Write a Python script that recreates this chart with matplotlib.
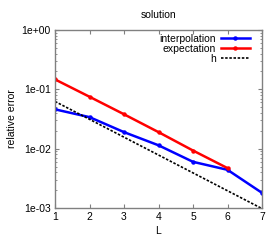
import matplotlib
matplotlib.use("Agg")
import matplotlib.pyplot as plt
from matplotlib.ticker import LogLocator, NullFormatter

plt.rcParams['font.family'] = ['Liberation Sans', 'DejaVu Sans']

L = [1, 2, 3, 4, 5, 6, 7]
interpolation = [0.046, 0.034, 0.019, 0.0114, 0.0060, 0.0044, 0.0018]
L_exp = [1, 2, 3, 4, 5, 6]
expectation = [0.147, 0.075, 0.038, 0.019, 0.0093, 0.0047]
h = [0.0625, 0.03125, 0.015625, 0.0078125, 0.00390625, 0.001953125, 0.0009765625]

fig = plt.figure(figsize=(2.8, 2.4), dpi=100)
ax = fig.add_axes([55/280, 1-208/240, (262-55)/280, (208-30)/240])

ax.plot(L, interpolation, color='#0000ff', lw=1.8, marker='o', ms=2.2, label='interpolation')
ax.plot(L_exp, expectation, color='#ff0000', lw=1.8, marker='o', ms=2.2, label='expectation')
ax.plot(L, h, color='black', lw=1.2, ls=(0, (1.5, 1)), label='h')

ax.set_yscale('log')
ax.set_xlim(1, 7)
ax.set_ylim(1e-3, 1)
ax.set_xticks(L)
ax.set_yticks([1e-3, 1e-2, 1e-1, 1])
ax.set_yticklabels(['1e-03', '1e-02', '1e-01', '1e+00'])
ax.yaxis.set_minor_locator(LogLocator(base=10, subs=range(2, 10)))
ax.yaxis.set_minor_formatter(NullFormatter())

for s in ax.spines.values():
    s.set_color('#808080')
    s.set_linewidth(1.0)
ax.tick_params(which='both', direction='in', top=True, right=True, colors='#808080',
               labelcolor='black', labelsize=7.5, pad=3)
ax.tick_params(which='major', length=3)
ax.tick_params(which='minor', length=1.5)

ax.set_title('solution', fontsize=7.5, pad=9)
ax.set_xlabel('L', fontsize=7.5, labelpad=3)
ax.set_ylabel('relative error', fontsize=7.5, labelpad=3)

leg = ax.legend(loc='upper right', bbox_to_anchor=(1 - 12/207, 1 - 4/178),
                fontsize=7.5, frameon=False, markerfirst=False,
                handlelength=2.8, handletextpad=0.5, labelspacing=0.0,
                borderpad=0, borderaxespad=0)
for t in leg.get_texts():
    t.set_ha('right')
leg._legend_box.align = 'right'

fig.savefig('out.png', dpi=100)
